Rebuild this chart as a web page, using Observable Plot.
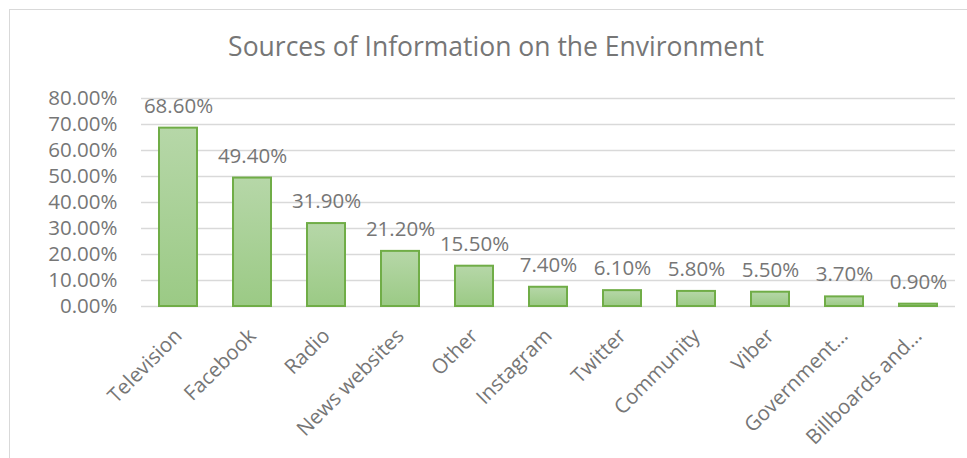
<!DOCTYPE html>
<html><head><meta charset="utf-8">
<script src="https://cdn.jsdelivr.net/npm/d3@7"></script>
<script src="https://cdn.jsdelivr.net/npm/@observablehq/plot@0.6"></script>
<style>
body{margin:0;background:#fff;overflow:hidden;font-family:"Open Sans",sans-serif}
#wrap{position:relative;width:967px;height:458px;overflow:hidden}
#frame{position:absolute;left:9px;top:9px;width:1000px;height:500px;border:1.5px solid #d9d9d9}
#title{position:absolute;left:9px;width:974px;top:28px;text-align:center;font-size:26.5px;color:#767676;line-height:36px}
#chart{position:absolute;left:0;top:80px}
</style></head><body>
<div id="wrap"><div id="frame"></div><div id="title">Sources of Information on the Environment</div><div id="chart"></div></div>
<script>
const categories = ["Television","Facebook","Radio","News websites","Other","Instagram","Twitter","Community","Viber","Government…","Billboards and…"];
const values = [68.6, 49.4, 31.9, 21.2, 15.5, 7.4, 6.1, 5.8, 5.5, 3.7, 0.9];
const yTicks = [0,10,20,30,40,50,60,70,80];
const data = categories.map((c,i)=>({category:c, value:values[i]}));
const plot = Plot.plot({
  width:967, height:378, marginTop:18, marginBottom:152, marginLeft:141, marginRight:12,
  style:{fontFamily:"Open Sans", fontSize:"20.5px", color:"#767676", background:"transparent", overflow:"visible"},
  x:{domain:categories, paddingInner:0.49, paddingOuter:0.245},
  y:{domain:[0,80]},
  marks:[
    Plot.ruleY(yTicks,{stroke:"#d9d9d9", strokeWidth:1.5}),
    Plot.axisY({ticks:yTicks, tickSize:0, tickPadding:24, tickFormat:d=>d.toFixed(2)+"%", label:null, fontSize:20.5}),
    Plot.axisX({tickRotate:-45, tickSize:0, tickPadding:26, label:null, fontSize:20.5}),
    Plot.barY(data,{x:"category", y:"value", fill:"url(#barGrad)", stroke:"#70ad47", strokeWidth:2}),
    Plot.text(data,{x:"category", y:"value", text:d=>d.value.toFixed(2)+"%", dy:-22, fontSize:20.5, fill:"#767676"})
  ]
});
const svg = d3.select(plot);
const grad = svg.insert("defs",":first-child").append("linearGradient")
  .attr("id","barGrad").attr("x1",0).attr("y1",0).attr("x2",0).attr("y2",1);
grad.append("stop").attr("offset","0%").attr("stop-color","#b6d7a8");
grad.append("stop").attr("offset","100%").attr("stop-color","#9bca85");
document.getElementById("chart").appendChild(plot);
</script>
</body></html>
